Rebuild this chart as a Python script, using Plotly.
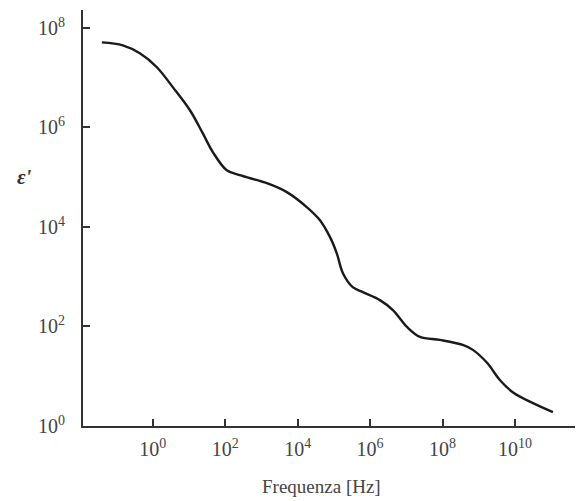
import plotly.graph_objects as go

# log10 of frequency [Hz] and log10 of epsilon'
log_freq = [-1.41, -0.83, -0.36, 0.11, 0.55, 1.02, 1.38, 1.66, 2.04, 2.40,
            3.15, 3.70, 4.25, 4.61, 4.89, 5.08, 5.25, 5.52, 5.80, 6.27,
            6.63, 7.02, 7.38, 7.93, 8.56, 8.84, 9.23, 9.59, 9.94, 10.50, 11.05]
log_eps = [7.71, 7.65, 7.49, 7.21, 6.81, 6.35, 5.88, 5.50, 5.14, 5.04,
           4.88, 4.70, 4.40, 4.14, 3.80, 3.47, 3.07, 2.79, 2.69, 2.53,
           2.33, 1.99, 1.79, 1.73, 1.63, 1.53, 1.27, 0.92, 0.68, 0.46, 0.28]

x_tick_exp = [0, 2, 4, 6, 8, 10]
y_tick_exp = [0, 2, 4, 6, 8]

freq = [10 ** v for v in log_freq]
eps = [10 ** v for v in log_eps]

serif = "Liberation Serif, Times New Roman, serif"
fig = go.Figure()
fig.add_trace(go.Scatter(x=freq, y=eps, mode="lines",
                         line=dict(color="#1a1a1a", width=2.4, shape="spline", smoothing=1.0),
                         hoverinfo="skip", showlegend=False))

fig.update_layout(
    width=577, height=501,
    margin=dict(l=83, r=2, t=10, b=75),
    paper_bgcolor="white", plot_bgcolor="white",
    font=dict(family=serif, size=20, color="#444"),
    showlegend=False,
)
fig.update_xaxes(
    type="log", range=[-1.93, 11.66],
    tickvals=[10 ** e for e in x_tick_exp],
    ticktext=[f"10<sup>{e}</sup>" for e in x_tick_exp],
    ticks="inside", ticklen=7, tickwidth=2, tickcolor="#333",
    showline=True, linecolor="#333", linewidth=2,
    showgrid=False, zeroline=False,
    ticklabelstandoff=4,
)
fig.update_yaxes(
    type="log", range=[0, 8.36],
    tickvals=[10 ** e for e in y_tick_exp],
    ticktext=[f"10<sup>{e}</sup>" for e in y_tick_exp],
    ticks="inside", ticklen=7, tickwidth=2, tickcolor="#333",
    showline=True, linecolor="#333", linewidth=2,
    showgrid=False, zeroline=False,
    ticklabelstandoff=12,
)
fig.add_annotation(text="Frequenza [Hz]", xref="paper", yref="paper",
                   x=(321 - 83) / 492, y=-(486 - 426) / 416, showarrow=False,
                   xanchor="center", yanchor="middle",
                   font=dict(family=serif, size=19, color="#444"))
fig.add_annotation(text="<b><i>ε'</i></b>", xref="paper", yref="paper",
                   x=-(83 - 24) / 492, y=(426 - 177) / 416, showarrow=False,
                   xanchor="center", yanchor="middle",
                   font=dict(family=serif, size=21, color="#333"))

fig.write_html("out.html")
